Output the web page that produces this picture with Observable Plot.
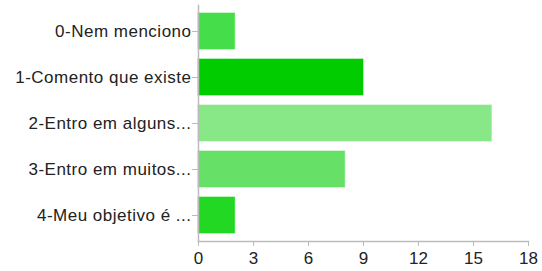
<!DOCTYPE html>
<html>
<head>
<meta charset="utf-8">
<script src="https://cdn.jsdelivr.net/npm/d3@7"></script>
<script src="https://cdn.jsdelivr.net/npm/@observablehq/plot@0.6"></script>
<style>
  html, body { margin: 0; padding: 0; background: #fff; }
  #chart svg { display: block; }
</style>
</head>
<body>
<div id="chart"></div>
<script>
const categories = ["0-Nem menciono", "1-Comento que existe", "2-Entro em alguns...", "3-Entro em muitos...", "4-Meu objetivo é ..."];
const counts = [2, 9, 16, 8, 2];
const barColors = ["#46dd4b", "#00cc00", "#88e888", "#66e066", "#22d822"];
const xTicks = [0, 3, 6, 9, 12, 15, 18];

const data = categories.map((c, i) => ({category: c, count: counts[i], color: barColors[i]}));

const chart = Plot.plot({
  width: 542,
  height: 271,
  marginLeft: 198,
  marginRight: 14,
  marginTop: 5,
  marginBottom: 30,
  style: {fontFamily: "'Liberation Sans', Arial, sans-serif", fontSize: "17px", color: "#222", background: "#fff"},
  x: {domain: [0, 18], ticks: xTicks, label: null},
  y: {domain: categories, paddingInner: 0.216, paddingOuter: 0.16, label: null},
  marks: [
    Plot.barX(data, {y: "category", x: "count", fill: "color", stroke: "color", strokeOpacity: 0.6, strokeWidth: 1}),
    Plot.frame({anchor: "left", stroke: "#bbb", strokeWidth: 1.5}),
    Plot.frame({anchor: "bottom", stroke: "#bbb", strokeWidth: 1.5}),
    Plot.axisX({ticks: xTicks, tickSize: 5, tickPadding: 5, stroke: "#bbb", fill: "#222", fontSize: 17, label: null}),
    Plot.axisY({tickSize: 6, tickPadding: 1, stroke: "#bbb", fill: "#222", fontSize: 17, label: null})
  ]
});
document.getElementById("chart").appendChild(chart);
d3.select(chart).selectAll("[aria-label='y-axis tick label'] text").style("letter-spacing", "0.5px");
</script>
</body>
</html>
